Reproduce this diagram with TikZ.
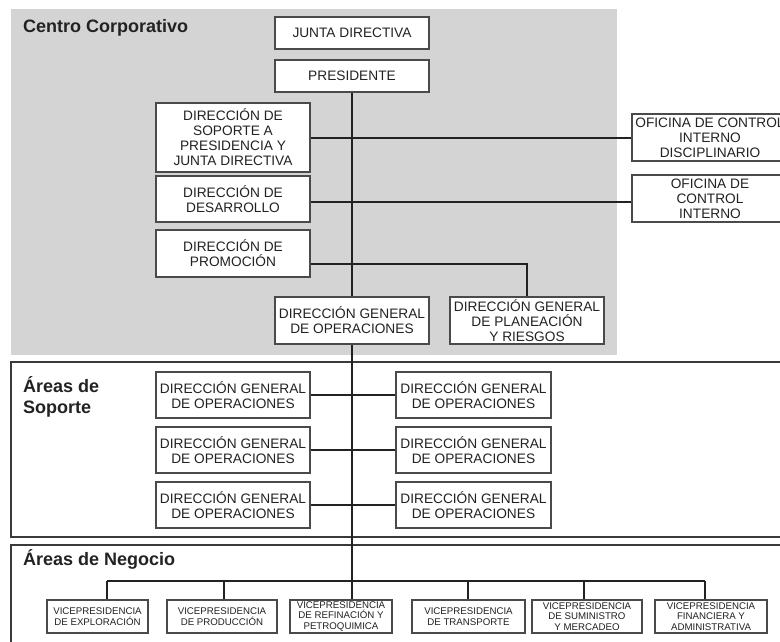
\documentclass[tikz,border=0pt]{standalone}
\usepackage{fontspec}
\setmainfont{Liberation Sans}
\definecolor{panelgray}{HTML}{D4D4D4}
\definecolor{inkgray}{HTML}{222222}
\definecolor{rulegray}{HTML}{3A3A3A}
\definecolor{edgegray}{HTML}{4A4A4A}
\tikzset{
  unitbox/.style={draw=edgegray, line width=1.1pt, fill=white, inner sep=0pt,
    align=center, text=inkgray, font=\fontsize{13.7}{15}\selectfont},
  vpbox/.style={unitbox, font=\fontsize{9.7}{10.6}\selectfont},
  link/.style={draw=inkgray, line width=1.3pt},
  frame/.style={draw=rulegray, line width=1.8pt},
  sectitle/.style={inner sep=0pt, align=left, text=inkgray,
    font=\fontsize{18}{21}\selectfont\bfseries}
}
\begin{document}
\begin{tikzpicture}[x=1pt, y=-1pt]
\clip (0,0) rectangle (780,642);
\fill[white] (0,0) rectangle (780,642);

% section panels
\fill[panelgray] (11,9) rectangle (617,355);
\draw[frame] (11,362) rectangle (800,537);
\draw[frame] (11,545) rectangle (800,670);

\node[sectitle, anchor=base west] (tcc) at (23,33) {Centro Corporativo};
\node[sectitle, anchor=base west] (tas) at (23,413) {Áreas de\\Soporte};
\node[sectitle, anchor=base west] (tan) at (23,565) {Áreas de Negocio};

% bus coordinates for the business units
\coordinate (b1) at (107,581);
\coordinate (b2) at (224,581);
\coordinate (b4) at (468,581);
\coordinate (b5) at (584,581);
\coordinate (b6) at (705,581);

% corporate centre
\node[unitbox, minimum width=154pt, minimum height=32pt] (junta) at (352,33) {JUNTA DIRECTIVA};
\node[unitbox, minimum width=154pt, minimum height=32pt] (pres) at (352,76) {PRESIDENTE};
\node[unitbox, minimum width=154pt, minimum height=69pt] (dsop) at (233,137.5) {DIRECCIÓN DE\\SOPORTE A\\PRESIDENCIA Y\\JUNTA DIRECTIVA};
\node[unitbox, minimum width=154pt, minimum height=46pt] (ddes) at (233,199) {DIRECCIÓN DE\\DESARROLLO};
\node[unitbox, minimum width=154pt, minimum height=47pt] (dprom) at (233,253.5) {DIRECCIÓN DE\\PROMOCIÓN};
\node[unitbox, minimum width=156pt, minimum height=47pt] (ocid) at (710,137.5) {OFICINA DE CONTROL\\INTERNO\\DISCIPLINARIO};
\node[unitbox, minimum width=156pt, minimum height=47pt] (oci) at (710,198.5) {OFICINA DE\\CONTROL\\INTERNO};
\node[unitbox, minimum width=154pt, minimum height=47pt] (dgo) at (352,320.5) {DIRECCIÓN GENERAL\\DE OPERACIONES};
\node[unitbox, minimum width=154pt, minimum height=47pt] (dgp) at (527,320.5) {DIRECCIÓN GENERAL\\DE PLANEACIÓN\\Y RIESGOS};

% support areas
\node[unitbox, minimum width=154pt, minimum height=46pt] (sl1) at (233,395) {DIRECCIÓN GENERAL\\DE OPERACIONES};
\node[unitbox, minimum width=154pt, minimum height=46pt] (sl2) at (233,450) {DIRECCIÓN GENERAL\\DE OPERACIONES};
\node[unitbox, minimum width=154pt, minimum height=46pt] (sl3) at (233,505) {DIRECCIÓN GENERAL\\DE OPERACIONES};
\node[unitbox, minimum width=155pt, minimum height=46pt] (sr1) at (473.5,395) {DIRECCIÓN GENERAL\\DE OPERACIONES};
\node[unitbox, minimum width=155pt, minimum height=46pt] (sr2) at (473.5,450) {DIRECCIÓN GENERAL\\DE OPERACIONES};
\node[unitbox, minimum width=155pt, minimum height=46pt] (sr3) at (473.5,505) {DIRECCIÓN GENERAL\\DE OPERACIONES};

% business areas
\node[vpbox, minimum width=101pt, minimum height=33pt] (vp1) at (97.5,616.5) {VICEPRESIDENCIA\\DE EXPLORACIÓN};
\node[vpbox, minimum width=110pt, minimum height=33pt] (vp2) at (222,616.5) {VICEPRESIDENCIA\\DE PRODUCCIÓN};
\node[vpbox, minimum width=102pt, minimum height=33pt] (vp3) at (341,616.5) {VICEPRESIDENCIA\\DE REFINACIÓN Y\\PETROQUIMICA};
\node[vpbox, minimum width=113pt, minimum height=33pt] (vp4) at (468.5,616.5) {VICEPRESIDENCIA\\DE TRANSPORTE};
\node[vpbox, minimum width=110pt, minimum height=33pt] (vp5) at (587,616.5) {VICEPRESIDENCIA\\DE SUMINISTRO\\Y MERCADEO};
\node[vpbox, minimum width=112pt, minimum height=33pt] (vp6) at (711,616.5) {VICEPRESIDENCIA\\FINANCIERA Y\\ADMINISTRATIVA};

% connectors
\draw[link] (pres.south) -- (dgo.north);
\draw[link] (dgo.south) -- (dgo.south |- vp3.north);
\draw[link] ([yshift=-0.5pt]dsop.east) -- ([yshift=-0.5pt]ocid.west);
\draw[link] ([yshift=-3pt]ddes.east) -- ([yshift=-3pt]ddes.east -| oci.west);
\draw[link] ([yshift=-10.5pt]dprom.east) -| (dgp.north);
\draw[link] (sl1.east) -- (sr1.west);
\draw[link] (sl2.east) -- (sr2.west);
\draw[link] (sl3.east) -- (sr3.west);
\draw[link] (b1) -- (b6);
\draw[link] (b1) -- (b1 |- vp1.north);
\draw[link] (b2) -- (b2 |- vp2.north);
\draw[link] (b4) -- (b4 |- vp4.north);
\draw[link] (b5) -- (b5 |- vp5.north);
\draw[link] (b6) -- (b6 |- vp6.north);
\end{tikzpicture}
\end{document}
